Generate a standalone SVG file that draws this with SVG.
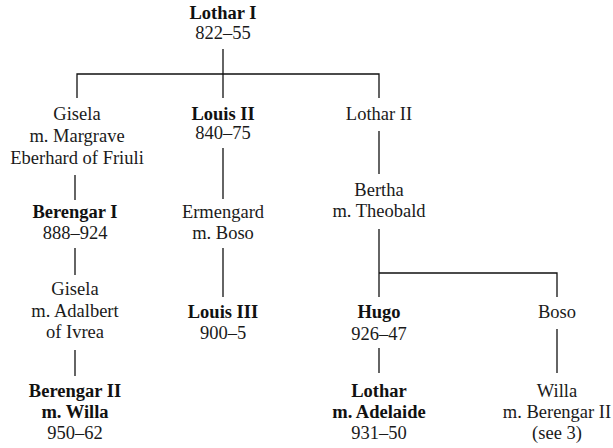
<svg xmlns="http://www.w3.org/2000/svg" width="613" height="448" viewBox="0 0 613 448">
<style>
text{font-family:"Liberation Serif","Times New Roman",serif;font-size:18.5px;fill:#1a1a1a;text-anchor:middle}
.b{font-weight:bold;fill:#111}
.c line,.c polyline{stroke:#111;stroke-width:1.3;fill:none}
</style>
<rect width="613" height="448" fill="#fff"/>
<g class="c" id="connectors">
<line x1="223" y1="49" x2="223" y2="98"/>
<polyline points="77,98 77,74 379,74 379,98"/>
<line x1="75" y1="175" x2="75" y2="200"/>
<line x1="75" y1="248" x2="75" y2="275"/>
<line x1="75" y1="350" x2="75" y2="376"/>
<line x1="223" y1="148" x2="223" y2="199"/>
<line x1="223" y1="248" x2="223" y2="297"/>
<line x1="379" y1="131" x2="379" y2="174"/>
<line x1="379" y1="229" x2="379" y2="297"/>
<polyline points="379,273 557,273 557,297"/>
<line x1="379" y1="348" x2="379" y2="373"/>
<line x1="557" y1="329" x2="557" y2="373"/>
</g>
<g id="lothar1"><text class="b" x="223" y="19">Lothar I</text><text x="223" y="39">822–55</text></g>
<g id="gisela1"><text x="77" y="120">Gisela</text><text x="77" y="142">m. Margrave</text><text x="77" y="164">Eberhard of Friuli</text></g>
<g id="louis2"><text class="b" x="223" y="120">Louis II</text><text x="223" y="139">840–75</text></g>
<g id="lothar2"><text x="379" y="120">Lothar II</text></g>
<g id="berengar1"><text class="b" x="75" y="218">Berengar I</text><text x="75" y="239">888–924</text></g>
<g id="ermengard"><text x="223" y="218">Ermengard</text><text x="223" y="239">m. Boso</text></g>
<g id="bertha"><text x="379" y="196">Bertha</text><text x="379" y="217">m. Theobald</text></g>
<g id="gisela2"><text x="75" y="295">Gisela</text><text x="75" y="317">m. Adalbert</text><text x="75" y="338">of Ivrea</text></g>
<g id="louis3"><text class="b" x="223" y="318">Louis III</text><text x="223" y="339">900–5</text></g>
<g id="hugo"><text class="b" x="379" y="318">Hugo</text><text x="379" y="340">926–47</text></g>
<g id="boso"><text x="557" y="318">Boso</text></g>
<g id="berengar2"><text class="b" x="75" y="397">Berengar II</text><text class="b" x="75" y="418">m. Willa</text><text x="75" y="439">950–62</text></g>
<g id="lothar"><text class="b" x="379" y="397">Lothar</text><text class="b" x="379" y="418">m. Adelaide</text><text x="379" y="439">931–50</text></g>
<g id="willa"><text x="557" y="397">Willa</text><text x="557" y="418">m. Berengar II</text><text x="557" y="439">(see 3)</text></g>
</svg>
